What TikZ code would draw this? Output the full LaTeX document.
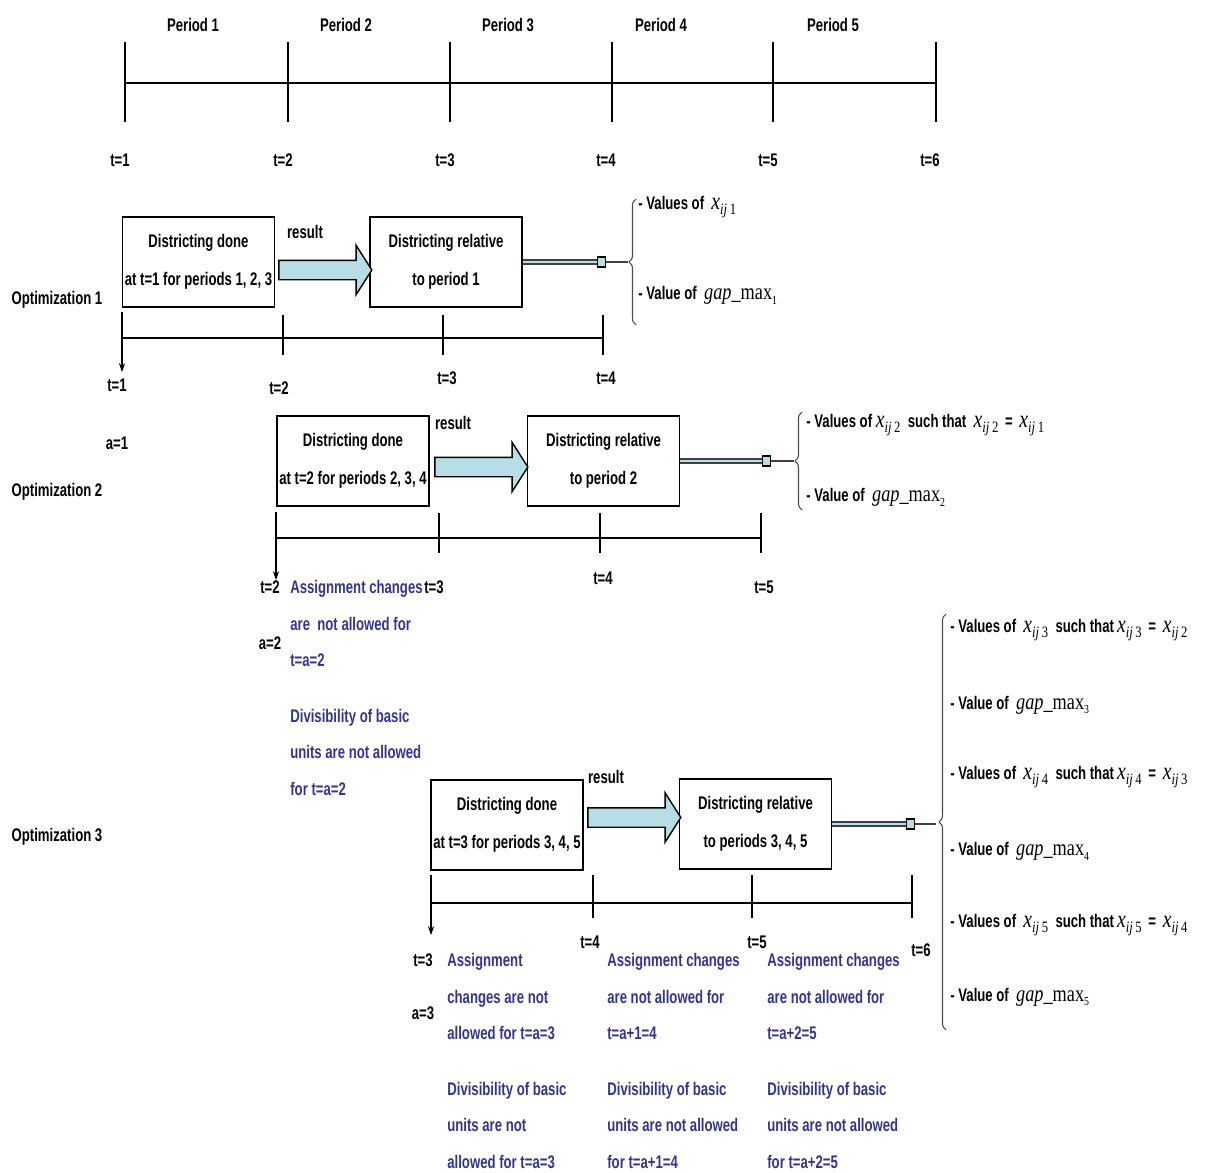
\documentclass[tikz,border=0pt]{standalone}
\usepackage[no-math]{fontspec}
\setmainfont[FakeStretch=0.72]{Liberation Sans}
\newfontfamily\mathserif[FakeStretch=0.8]{Liberation Serif}
\usetikzlibrary{shapes.arrows,decorations.pathreplacing,calc,arrows.meta}

\definecolor{notecol}{RGB}{51,51,153}
\definecolor{arrowfill}{RGB}{183,222,228}

\newcommand{\xij}[1]{{\mathserif\mdseries\fontsize{14}{14}\selectfont\itshape x}\raisebox{-0.6ex}{\mathserif\mdseries\fontsize{9}{9}\selectfont\itshape ij\,\upshape #1}}
\newcommand{\gapmax}[1]{{\mathserif\mdseries\fontsize{13}{13}\selectfont\itshape gap\_\upshape max}\raisebox{-0.5ex}{\mathserif\mdseries\fontsize{7}{7}\selectfont #1}}

\begin{document}
\begin{tikzpicture}[x=0.02cm, y=-0.02cm,
  lbl/.style={font=\bfseries\fontsize{10.4}{21}\selectfont, inner sep=0pt},
  note/.style={font=\bfseries\fontsize{10.4}{20.8}\selectfont, inner sep=0pt, text=notecol, align=left, anchor=north west},
  box/.style={draw, line width=0.9pt, minimum width=3.04cm, minimum height=1.8cm, align=center, inner sep=0pt, font=\bfseries\fontsize{10.4}{21.6}\selectfont},
  resarrow/.style={single arrow, draw, line width=0.8pt, fill=arrowfill, minimum height=1.86cm, inner xsep=0pt, inner ysep=0.18cm, single arrow head extend=0.3cm, single arrow tip angle=115},
  plug/.style={draw, fill=arrowfill, minimum width=0.16cm, minimum height=0.2cm, inner sep=0pt, line width=0.6pt},
  cable/.style={double=arrowfill, double distance=1.5pt, line width=0.8pt, draw=black!75},
  wire/.style={line width=0.8pt, black!75},
  brc/.style={decorate, decoration={brace, amplitude=0.14cm}, line width=0.6pt, black!70},
  tl/.style={line width=1pt},
  tk/.style={line width=0.6pt}]
\useasboundingbox (0,0) rectangle (1211,1173);

% time axis
\draw[tl] (125,83) -- (936,83);
\foreach \x in {125,288,450,612,773,936}
  \draw[tk] (\x,42) -- (\x,122);
\foreach \x/\n in {193/1,346/2,508/3,661/4,833/5}
  \node[lbl] (per\n) at (\x,25) {Period \n};
\foreach \x/\n in {120/1,283/2,445/3,606/4,768/5,930/6}
  \node[lbl] (top\n) at (\x,160) {t=\n};

% optimization 1
\node[lbl] (opt1) at (57,300) {Optimization 1};
\node[box] (d1) at (198.5,262) {Districting done\\at t=1 for periods 1, 2, 3};
\node[box] (r1) at (446,262) {Districting relative\\to period 1};
\node[resarrow] (a1) at ($(d1.east)!0.5!(r1.west)+(0,8)$) {};
\node[lbl] (res1) at (305,232) {result};
\node[plug] (k1) at ($(r1.east)+(79,0)$) {};
\coordinate (e1) at (628,262);
\draw[cable] (r1.east) -- (k1.west);
\draw[wire] (k1.east) -- (e1);
\draw[brc] (636,325) -- (636,199);
\node[lbl, anchor=west] (v1) at (638,207) {- Values of \ \xij{1}};
\node[lbl, anchor=west] (g1) at (638,295) {- Value of \ \gapmax{1}};
\draw[tl] (122,338) -- (603,338);
\draw[tk, -{Stealth[length=5pt,width=3.5pt]}] (122,312) -- (122,372);
\foreach \x in {283,443,603}
  \draw[tk] (\x,315) -- (\x,355);
\foreach \x/\y/\n in {117/385/1,279/388/2,447/378/3,606/378/4}
  \node[lbl] (oa\n) at (\x,\y) {t=\n};
\node[lbl] (aa1) at (117,443) {a=1};

% optimization 2
\node[lbl] (opt2) at (57,492) {Optimization 2};
\node[box] (d2) at (353,461) {Districting done\\at t=2 for periods 2, 3, 4};
\node[box] (r2) at (603.5,461) {Districting relative\\to period 2};
\node[resarrow] (a2) at ($(d2.east)!0.5!(r2.west)+(0,6)$) {};
\node[lbl] (res2) at (453,423) {result};
\node[plug] (k2) at ($(r2.east)+(86,0)$) {};
\coordinate (e2) at (794,461);
\draw[cable] (r2.east) -- (k2.west);
\draw[wire] (k2.east) -- (e2);
\draw[brc] (802,510) -- (802,412);
\node[lbl, anchor=west] (v2) at (806,425) {- Values of \xij{2} \ such that \ \xij{2} \,=\, \xij{1}};
\node[lbl, anchor=west] (g2) at (806,497) {- Value of \ \gapmax{2}};
\draw[tl] (276,538) -- (761,538);
\draw[tk, -{Stealth[length=5pt,width=3.5pt]}] (276,512) -- (276,580);
\foreach \x in {439,600,761}
  \draw[tk] (\x,513) -- (\x,553);
\foreach \x/\y/\n in {270/587/2,434/587/3,603/578/4,764/587/5}
  \node[lbl] (ob\n) at (\x,\y) {t=\n};
\node[lbl] (aa2) at (270,643) {a=2};
\node[note] (n2) at (290,580) {Assignment changes\\are\ \ not allowed for\\t=a=2\\[0.38cm]Divisibility of basic\\units are not allowed\\for t=a=2};

% optimization 3
\node[lbl] (opt3) at (57,837) {Optimization 3};
\node[box] (d3) at (507,825) {Districting done\\at t=3 for periods 3, 4, 5};
\node[box] (r3) at (755.5,824) {Districting relative\\to periods 3, 4, 5};
\node[resarrow] (a3) at ($(d3.east)!0.5!(r3.west)+(0,-7)$) {};
\node[lbl] (res3) at (606,777) {result};
\node[plug] (k3) at ($(r3.east)+(78,0)$) {};
\coordinate (e3) at (936,824);
\draw[cable] (r3.east) -- (k3.west);
\draw[wire] (k3.east) -- (e3);
\draw[brc] (946,1030) -- (946,614);
\foreach \y/\n/\m in {630/3/2,777/4/3,925/5/4}
  \node[lbl, anchor=west] (v3\n) at (950,\y) {- Values of \ \xij{\n} \ such that\,\xij{\n} \,=\, \xij{\m}};
\foreach \y/\n in {705/3,851/4,997/5}
  \node[lbl, anchor=west] (g3\n) at (950,\y) {- Value of \ \gapmax{\n}};
\draw[tl] (431,903) -- (912,903);
\draw[tk, -{Stealth[length=5pt,width=3.5pt]}] (431,875) -- (431,935);
\foreach \x in {593,752,912}
  \draw[tk] (\x,875) -- (\x,918);
\foreach \x/\y/\n in {423/960/3,590/942/4,757/942/5,921/950/6}
  \node[lbl] (oc\n) at (\x,\y) {t=\n};
\node[lbl] (aa3) at (423,1013) {a=3};
\node[note] (n31) at (447,953) {Assignment\\changes are not\\allowed for t=a=3\\[0.38cm]Divisibility of basic\\units are not\\allowed for t=a=3};
\node[note] (n32) at (607,953) {Assignment changes\\are not allowed for\\t=a+1=4\\[0.38cm]Divisibility of basic\\units are not allowed\\for t=a+1=4};
\node[note] (n33) at (767,953) {Assignment changes\\are not allowed for\\t=a+2=5\\[0.38cm]Divisibility of basic\\units are not allowed\\for t=a+2=5};
\end{tikzpicture}
\end{document}
